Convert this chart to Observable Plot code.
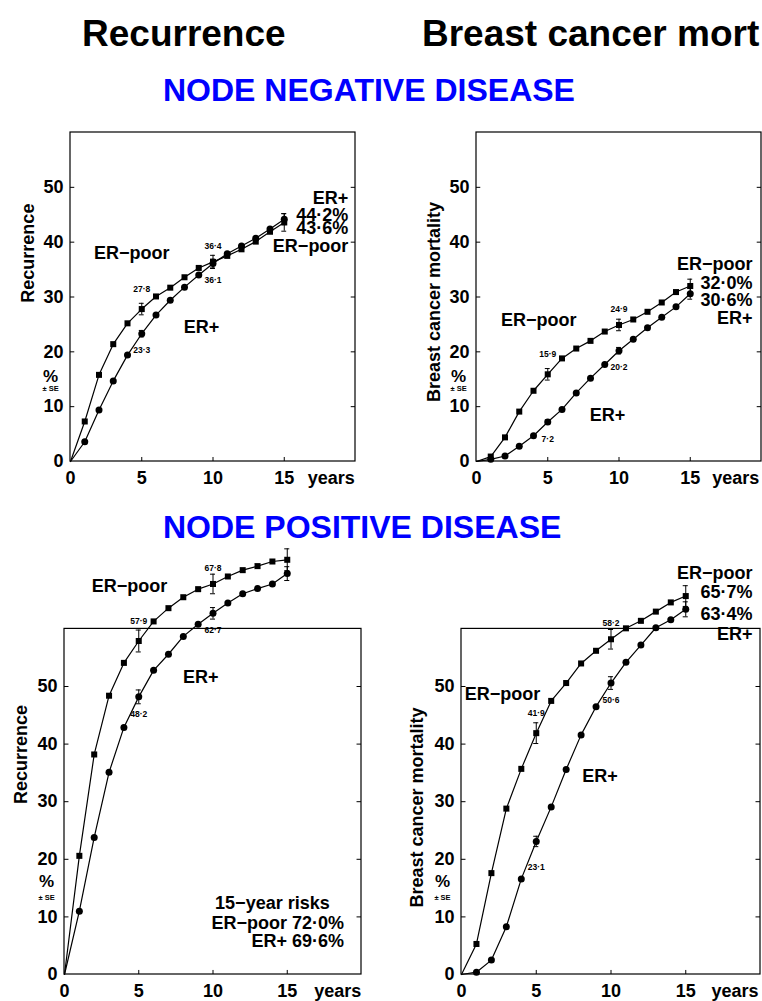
<!DOCTYPE html>
<html>
<head>
<meta charset="utf-8">
<script src="https://cdn.jsdelivr.net/npm/d3@7"></script>
<script src="https://cdn.jsdelivr.net/npm/@observablehq/plot@0.6"></script>
<style>
html, body { margin: 0; padding: 0; background: #fff; overflow: hidden; }
#root { position: relative; width: 762px; height: 1001px; overflow: hidden; font-family: "Liberation Sans", Arial, Helvetica, sans-serif; }
.t { position: absolute; white-space: nowrap; font-weight: bold; line-height: 1; }
.panel { position: absolute; }
</style>
</head>
<body>
<div id="root"></div>
<script>
// ---------- data ----------
const years = [0, 1, 2, 3, 4, 5, 6, 7, 8, 9, 10, 11, 12, 13, 14, 15];
const xTicks = [0, 5, 10, 15];
const yTicks = [0, 10, 20, 30, 40, 50];
const seYears = [5, 10, 15];

const columnTitles = ["Recurrence", "Breast cancer mortality"];
const headerTitles = ["Recurrence", "Breast cancer mort"];
const groupTitles = ["NODE NEGATIVE DISEASE", "NODE POSITIVE DISEASE"];
const seriesNames = ["ER−poor", "ER+"];

// Node negative – recurrence
const nnRecPoor = [0, 7.3, 15.8, 21.4, 25.2, 27.8, 30.1, 31.7, 33.6, 35.3, 36.4, 37.5, 38.7, 40.1, 41.9, 43.6];
const nnRecPos  = [0, 3.6, 9.4, 14.7, 19.4, 23.3, 26.7, 29.4, 31.8, 34.0, 36.1, 37.9, 39.3, 40.7, 42.4, 44.2];
const nnRecPoorSE = [1.05, 1.2, 1.6];
const nnRecPosSE  = [0.6, 0.8, 1.0];

// Node negative – breast cancer mortality
const nnMortPoor = [0, 0.9, 4.4, 9.1, 12.9, 15.9, 18.8, 20.6, 22.0, 23.7, 24.9, 25.9, 27.3, 29.0, 30.9, 32.0];
const nnMortPos  = [0, 0.4, 1.0, 2.8, 4.7, 7.2, 9.5, 12.5, 15.2, 17.7, 20.2, 22.3, 24.4, 26.3, 28.2, 30.6];
const nnMortPoorSE = [1.05, 1.05, 1.25];
const nnMortPosSE  = [0.4, 0.6, 1.0];

// Node positive – recurrence
const npRecPoor = [0, 20.6, 38.2, 48.4, 54.1, 57.9, 61.3, 63.6, 65.5, 66.9, 67.8, 69.1, 70.2, 70.9, 71.7, 72.0];
const npRecPos  = [0, 11.0, 23.8, 35.1, 42.9, 48.2, 52.8, 55.6, 58.7, 60.8, 62.7, 64.5, 66.1, 67.0, 67.8, 69.6];
const npRecPoorSE = [1.9, 1.7, 1.9];
const npRecPosSE  = [1.2, 1.0, 1.2];

// Node positive – breast cancer mortality
const npMortPoor = [0, 5.3, 17.6, 28.8, 35.7, 41.9, 47.5, 50.6, 54.0, 56.2, 58.2, 60.1, 61.4, 63.0, 64.6, 65.7];
const npMortPos  = [0, 0.4, 2.5, 8.3, 16.6, 23.1, 29.1, 35.6, 41.6, 46.5, 50.6, 54.2, 57.2, 60.2, 61.6, 63.4];
const npMortPoorSE = [1.8, 1.7, 1.8];
const npMortPosSE  = [0.9, 1.1, 1.3];

// ---------- layout ----------
const FONT = '"Liberation Sans", Arial, Helvetica, sans-serif';
const xMax = 20, frameTop = 60;
const fmt = v => d3.format(".1f")(v).replace(".", "·");
const root = document.getElementById("root");

function drawPanel(cfg) {
  const poorRows = years.map((t, i) => ({t, v: cfg.poor[i]}));
  const posRows = years.map((t, i) => ({t, v: cfg.pos[i]}));
  const err = (vals, se) => seYears.map((t, j) => ({t, v: vals[years.indexOf(t)], se: se[j]}));
  const errAll = err(cfg.poor, cfg.sePoor).concat(err(cfg.pos, cfg.sePos));
  const lab = (vals, y) => ({t: y, v: vals[years.indexOf(y)]});
  const L = cfg.layout;
  const textOpts = {fontFamily: FONT, fontWeight: "bold", fill: "black"};

  const marks = [
    Plot.rect([{x1: 0, x2: xMax, y1: 0, y2: frameTop}], {x1: "x1", x2: "x2", y1: "y1", y2: "y2", fill: "none", stroke: "black", strokeWidth: 1.2}),
    Plot.ruleY(yTicks.slice(1), {x1: 0, x2: 0.3, stroke: "black", strokeWidth: 1}),
    Plot.ruleY(yTicks.slice(1), {x1: xMax - 0.3, x2: xMax, stroke: "black", strokeWidth: 1}),
    Plot.ruleX(xTicks.slice(1), {y1: 0, y2: cfg.tickLenY, stroke: "black", strokeWidth: 1}),
    Plot.line(poorRows, {x: "t", y: "v", stroke: "black", strokeWidth: 1.2}),
    Plot.line(posRows, {x: "t", y: "v", stroke: "black", strokeWidth: 1.2}),
    Plot.ruleX(errAll, {x: "t", y1: d => d.v - d.se, y2: d => d.v + d.se, stroke: "black", strokeWidth: 1}),
    Plot.ruleY(errAll, {y: d => d.v + d.se, x1: d => d.t - 0.17, x2: d => d.t + 0.17, stroke: "black", strokeWidth: 1}),
    Plot.ruleY(errAll, {y: d => d.v - d.se, x1: d => d.t - 0.17, x2: d => d.t + 0.17, stroke: "black", strokeWidth: 1}),
    Plot.dot(poorRows.filter(d => d.t > 0), {x: "t", y: "v", symbol: "square", r: 3.4, fill: "black", stroke: "none"}),
    Plot.dot(posRows.filter(d => d.t > 0), {x: "t", y: "v", symbol: "circle", r: 3.5, fill: "black", stroke: "none"}),
    // small value labels
    Plot.text([lab(cfg.poor, 5)], {x: "t", y: "v", text: d => fmt(d.v), dy: -20, fontSize: 8.5, ...textOpts}),
    Plot.text([lab(cfg.poor, 10)], {x: "t", y: "v", text: d => fmt(d.v), dy: -16, fontSize: 8.5, ...textOpts}),
    Plot.text([lab(cfg.pos, 5)], {x: "t", y: "v", text: d => fmt(d.v), dy: L.posDy5, fontSize: 8.5, ...textOpts}),
    Plot.text([lab(cfg.pos, 10)], {x: "t", y: "v", text: d => fmt(d.v), dy: 17, fontSize: 8.5, ...textOpts}),
    // series labels inside
    Plot.text([{x: L.poorLabel[0], y: L.poorLabel[1], s: seriesNames[0]}], {x: "x", y: "y", text: "s", fontSize: 18, ...textOpts}),
    Plot.text([{x: L.posLabel[0], y: L.posLabel[1], s: seriesNames[1]}], {x: "x", y: "y", text: "s", fontSize: 18, ...textOpts}),
    // y label
    Plot.text([{x: L.yLabel[0], y: L.yLabel[1], s: cfg.yTitle}], {x: "x", y: "y", text: "s", rotate: -90, fontSize: 18, ...textOpts}),
    Plot.text([{x: L.pct[0], y: L.pct[1], s: "%"}], {x: "x", y: "y", text: "s", dy: -1.5, fontSize: 17, ...textOpts}),
    Plot.text([{x: L.pct[0], y: L.pct[2], s: "± SE"}], {x: "x", y: "y", text: "s", dy: 1.5, fontSize: 7.5, ...textOpts}),
    // years
    Plot.text([{x: L.yearsX, y: 0, s: "years"}], {x: "x", y: "y", text: "s", dy: 10, lineAnchor: "top", fontSize: 18, ...textOpts}),
    // end labels
    Plot.text(cfg.endTexts.map((s, i) => ({x: L.endX, y: L.endY[i], s})), {x: "x", y: "y", text: "s", textAnchor: "end", fontSize: 18, ...textOpts})
  ];
  if (cfg.midTexts) {
    marks.push(Plot.text(cfg.midTexts.map((s, i) => ({x: L.midX[i], y: L.midY[i], s})), {x: "x", y: "y", text: "s", textAnchor: L.midAnchor, fontSize: 18, ...textOpts}));
  }

  const plot = Plot.plot({
    width: cfg.width, height: cfg.height,
    marginLeft: cfg.ml, marginRight: cfg.mr, marginTop: cfg.mt, marginBottom: cfg.mb,
    x: {domain: [0, xMax], ticks: xTicks, tickSize: 0, tickPadding: 10, label: null},
    y: {domain: [0, cfg.yMax], ticks: yTicks, tickSize: 0, tickPadding: 7, label: null},
    style: {background: "none", overflow: "visible", fontFamily: FONT, fontSize: "18px", fontWeight: "bold", color: "black"},
    marks
  });
  const wrap = document.createElement("div");
  wrap.className = "panel";
  wrap.style.left = cfg.left + "px";
  wrap.style.top = cfg.top + "px";
  wrap.appendChild(plot);
  root.appendChild(wrap);
}

// Top-left: node negative, recurrence
drawPanel({
  left: 0, top: 120, width: 380, height: 370, ml: 70, mr: 25, mt: 12, mb: 29, yMax: 60, tickLenY: 0.73,
  poor: nnRecPoor, pos: nnRecPos, sePoor: nnRecPoorSE, sePos: nnRecPosSE,
  yTitle: columnTitles[0],
  endTexts: [seriesNames[1], fmt(nnRecPos[15]) + "%", fmt(nnRecPoor[15]) + "%", seriesNames[0]],
  layout: {poorLabel: [4.3, 38.0], posLabel: [9.2, 24.5], yLabel: [-3.0, 38.0], pct: [-1.4, 15.3, 13.5],
           yearsX: 18.3, endX: 19.5, endY: [48.0, 44.9, 42.5, 39.3], posDy5: 17}
});

// Top-right: node negative, breast cancer mortality
drawPanel({
  left: 380, top: 120, width: 382, height: 370, ml: 96, mr: 1, mt: 12, mb: 29, yMax: 60, tickLenY: 0.73,
  poor: nnMortPoor, pos: nnMortPos, sePoor: nnMortPoorSE, sePos: nnMortPosSE,
  yTitle: columnTitles[1],
  endTexts: [seriesNames[0], fmt(nnMortPoor[15]) + "%", fmt(nnMortPos[15]) + "%", seriesNames[1]],
  layout: {poorLabel: [4.37, 25.8], posLabel: [9.2, 8.4], yLabel: [-3.0, 29.1], pct: [-1.26, 15.3, 13.5],
           yearsX: 18.2, endX: 19.37, endY: [35.9, 32.5, 29.5, 26.2], posDy5: 17}
});

// Bottom-left: node positive, recurrence
drawPanel({
  left: 0, top: 535, width: 380, height: 466, ml: 64, mr: 19, mt: 7, mb: 27, yMax: 75, tickLenY: 0.7,
  poor: npRecPoor, pos: npRecPos, sePoor: npRecPoorSE, sePos: npRecPosSE,
  yTitle: columnTitles[0],
  endTexts: [seriesNames[0] + " " + fmt(npRecPoor[15]) + "%", seriesNames[1] + " " + fmt(npRecPos[15]) + "%"],
  midTexts: ["15−year risks"],
  layout: {poorLabel: [4.37, 67.4], posLabel: [9.18, 51.6], yLabel: [-2.9, 38.2], pct: [-1.2, 15.8, 13.6],
           yearsX: 18.4, endX: 18.83, endY: [8.9, 5.7], midX: [14.0], midY: [12.3], midAnchor: "middle", posDy5: 17}
});

// Bottom-right: node positive, breast cancer mortality
drawPanel({
  left: 380, top: 535, width: 382, height: 466, ml: 81, mr: 2, mt: 7, mb: 27, yMax: 75, tickLenY: 0.7,
  poor: npMortPoor, pos: npMortPos, sePoor: npMortPoorSE, sePos: npMortPosSE,
  yTitle: columnTitles[1],
  endTexts: [seriesNames[0], fmt(npMortPoor[15]) + "%", fmt(npMortPos[15]) + "%", seriesNames[1]],
  layout: {poorLabel: [2.74, 48.7], posLabel: [9.26, 34.5], yLabel: [-2.94, 29.0], pct: [-1.27, 15.8, 13.6],
           yearsX: 18.3, endX: 19.46, endY: [69.6, 66.3, 62.5, 59.1], posDy5: 26}
});

// ---------- headings ----------
function heading(text, left, top, size, color) {
  const d = document.createElement("div");
  d.className = "t";
  d.textContent = text;
  d.style.left = left + "px";
  d.style.top = top + "px";
  d.style.fontSize = size + "px";
  d.style.color = color;
  root.appendChild(d);
}
heading(headerTitles[0], 82, 15, 37, "#000");
heading(headerTitles[1], 422, 15, 37, "#000");
heading(groupTitles[0], 163, 74, 32, "#0000ff");
heading(groupTitles[1], 163, 511, 32, "#0000ff");
</script>
</body>
</html>
